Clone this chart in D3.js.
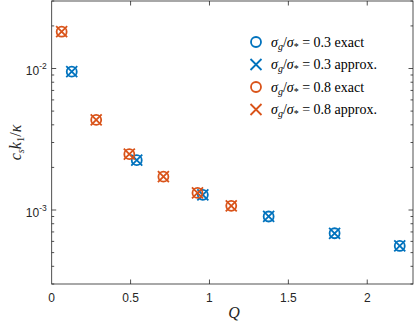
<!DOCTYPE html>
<html>
<head>
<meta charset="utf-8">
<script src="https://cdn.jsdelivr.net/npm/d3@7"></script>
<style>
  body { margin: 0; background: #fff; }
  svg { display: block; }
</style>
</head>
<body>
<div id="chart"></div>
<script>
// Data
const qExact03 = [0.127, 0.539, 0.958, 1.375, 1.793, 2.206];
const valExact03 = [9.5e-3, 2.25e-3, 1.28e-3, 9.0e-4, 6.85e-4, 5.57e-4];
const qApprox03 = [0.127, 0.539, 0.958, 1.375, 1.793, 2.206];
const valApprox03 = [9.5e-3, 2.25e-3, 1.28e-3, 9.0e-4, 6.85e-4, 5.57e-4];

const qExact08 = [0.063, 0.282, 0.492, 0.708, 0.924, 1.138];
const valExact08 = [1.82e-2, 4.33e-3, 2.48e-3, 1.72e-3, 1.32e-3, 1.07e-3];
const qApprox08 = [0.063, 0.282, 0.492, 0.708, 0.924, 1.138];
const valApprox08 = [1.82e-2, 4.33e-3, 2.48e-3, 1.72e-3, 1.32e-3, 1.07e-3];

const xTicks = [0, 0.5, 1, 1.5, 2];
const yTicks = [1e-3, 1e-2];

const BLUE = '#0072BD';
const ORANGE = '#D95319';
const AXIS = '#262626';

const CONFIG = {
  width: 415,
  height: 323,
  margin: { top: 1, right: 2, bottom: 39, left: 51.7 }
};

const series = [
  { q: qExact03, v: valExact03, color: BLUE, marker: 'o', sigma: '0.3', kind: 'exact' },
  { q: qApprox03, v: valApprox03, color: BLUE, marker: 'x', sigma: '0.3', kind: 'approx.' },
  { q: qExact08, v: valExact08, color: ORANGE, marker: 'o', sigma: '0.8', kind: 'exact' },
  { q: qApprox08, v: valApprox08, color: ORANGE, marker: 'x', sigma: '0.8', kind: 'approx.' }
];

const innerW = CONFIG.width - CONFIG.margin.left - CONFIG.margin.right;
const innerH = CONFIG.height - CONFIG.margin.top - CONFIG.margin.bottom;

const svg = d3.select('#chart').append('svg')
  .attr('width', CONFIG.width)
  .attr('height', CONFIG.height);

const chart = svg.append('g')
  .attr('transform', `translate(${CONFIG.margin.left}, ${CONFIG.margin.top})`);

const xScale = d3.scaleLinear().domain([0, 2.29]).range([0, innerW]);
const yScale = d3.scaleLog().domain([3e-4, 3e-2]).range([innerH, 0]);

// minor ticks for log axis
const minorY = [];
[1e-4, 1e-3, 1e-2].forEach(dec => {
  for (let k = 2; k <= 9; k++) {
    const v = dec * k;
    if (v >= 3e-4 && v <= 3e-2) minorY.push(v);
  }
});

// Drawing helpers
function drawMarker(g, x, y, type, color) {
  if (type === 'o') {
    g.append('circle')
      .attr('cx', x).attr('cy', y).attr('r', 5)
      .attr('fill', 'none')
      .attr('stroke', color)
      .attr('stroke-width', 1.8);
  } else {
    const s = 5.5;
    g.append('path')
      .attr('d', `M${x - s},${y - s}L${x + s},${y + s}M${x - s},${y + s}L${x + s},${y - s}`)
      .attr('stroke', color)
      .attr('stroke-width', 1.8)
      .attr('fill', 'none');
  }
}

// Axes box
chart.append('rect')
  .attr('width', innerW)
  .attr('height', innerH)
  .attr('fill', 'none')
  .attr('stroke', AXIS)
  .attr('stroke-width', 0.8);

// ticks (inside), mirrored on opposite sides
const ticksG = chart.append('g').attr('stroke', AXIS).attr('stroke-width', 0.8);
xTicks.slice(1).forEach(t => {
  const x = xScale(t);
  ticksG.append('line').attr('x1', x).attr('x2', x).attr('y1', innerH).attr('y2', innerH - 4.5);
  ticksG.append('line').attr('x1', x).attr('x2', x).attr('y1', 0).attr('y2', 4.5);
});
yTicks.forEach(t => {
  const y = yScale(t);
  ticksG.append('line').attr('x1', 0).attr('x2', 4.5).attr('y1', y).attr('y2', y);
  ticksG.append('line').attr('x1', innerW).attr('x2', innerW - 4.5).attr('y1', y).attr('y2', y);
});
minorY.forEach(t => {
  const y = yScale(t);
  ticksG.append('line').attr('x1', 0).attr('x2', 2.5).attr('y1', y).attr('y2', y);
  ticksG.append('line').attr('x1', innerW).attr('x2', innerW - 2.5).attr('y1', y).attr('y2', y);
});

// tick labels
chart.append('g')
  .selectAll('text')
  .data(xTicks)
  .join('text')
  .attr('x', d => xScale(d))
  .attr('y', innerH + 17.5)
  .attr('text-anchor', 'middle')
  .attr('fill', AXIS)
  .style('font-family', 'Liberation Sans, Arial, sans-serif')
  .style('font-size', '12px')
  .text(d => d);

const yLab = chart.append('g')
  .selectAll('text')
  .data(yTicks)
  .join('text')
  .attr('x', -5)
  .attr('y', d => yScale(d) + 6.5)
  .attr('text-anchor', 'end')
  .attr('fill', AXIS)
  .style('font-family', 'Liberation Sans, Arial, sans-serif')
  .style('font-size', '12px');
yLab.append('tspan').text('10');
yLab.append('tspan')
  .attr('dy', -6)
  .style('font-size', '8.5px')
  .text(d => '-' + Math.round(-Math.log10(d)));

// data markers
const marks = chart.append('g');
series.forEach(s => {
  s.q.forEach((q, i) => drawMarker(marks, xScale(q), yScale(s.v[i]), s.marker, s.color));
});

// axis labels
const serif = 'Liberation Serif, Times New Roman, serif';
svg.append('text')
  .attr('x', CONFIG.margin.left + xScale(1.155))
  .attr('y', 318)
  .attr('text-anchor', 'middle')
  .attr('fill', AXIS)
  .style('font-family', serif)
  .style('font-style', 'italic')
  .style('font-size', '16px')
  .text('Q');

const yTitle = svg.append('text')
  .attr('transform', `translate(21, ${CONFIG.margin.top + innerH / 2}) rotate(-90)`)
  .attr('text-anchor', 'middle')
  .attr('fill', AXIS)
  .style('font-family', serif)
  .style('font-style', 'italic')
  .style('font-size', '16px');
yTitle.append('tspan').text('c');
yTitle.append('tspan').attr('dy', 3).style('font-size', '10.5px').text('s');
yTitle.append('tspan').attr('dy', -3).text('k');
yTitle.append('tspan').attr('dy', 3).style('font-size', '10.5px').style('font-style', 'normal').text('1');
yTitle.append('tspan').attr('dy', -3).style('font-style', 'normal').text('/');
yTitle.append('tspan').text('κ');

// legend
const legend = svg.append('g').attr('transform', 'translate(256, 42)');
const legendItems = legend.selectAll('.legend-item')
  .data(series)
  .join('g')
  .attr('class', 'legend-item')
  .attr('transform', (d, i) => `translate(0, ${i * 22.5})`);

legendItems.each(function(d) {
  drawMarker(d3.select(this), 0, 0, d.marker, d.color);
});

const lt = legendItems.append('text')
  .attr('x', 15)
  .attr('y', 4.5)
  .attr('fill', '#000')
  .style('font-family', serif)
  .style('font-size', '14px');
lt.append('tspan').style('font-style', 'italic').text('σ');
lt.append('tspan').attr('dy', 3).style('font-style', 'italic').style('font-size', '10px').text('g');
lt.append('tspan').attr('dy', -3).text('/');
lt.append('tspan').style('font-style', 'italic').text('σ');
lt.append('tspan').attr('dy', 3).style('font-size', '10px').text('*');
lt.append('tspan').attr('dy', -3).text(d => ` = ${d.sigma} ${d.kind}`);
</script>
</body>
</html>
